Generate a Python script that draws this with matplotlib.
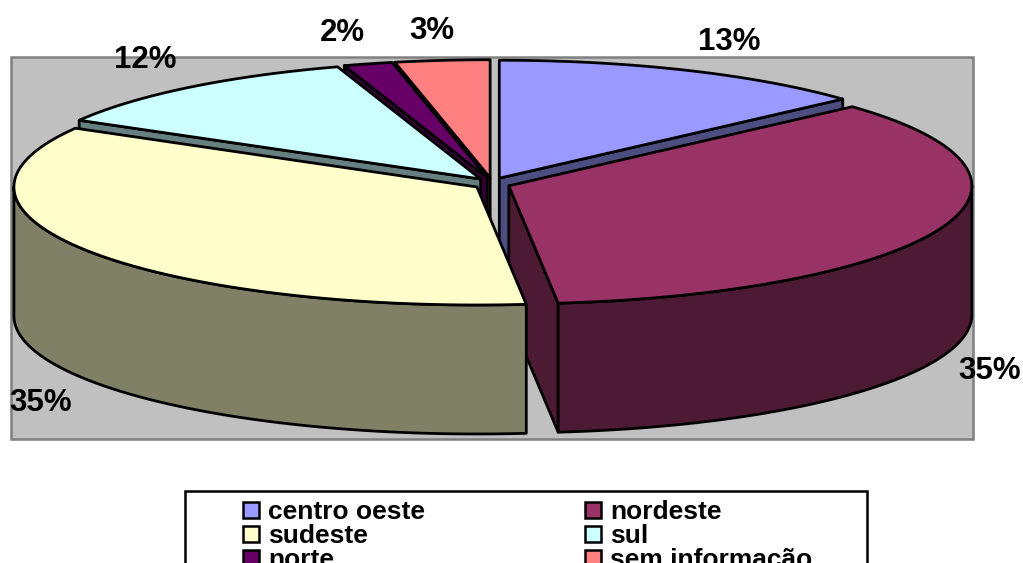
import numpy as np
import matplotlib
matplotlib.use("Agg")
import matplotlib.pyplot as plt
from matplotlib.patches import Polygon, Rectangle

categories = ["centro oeste", "nordeste", "sudeste", "sul", "norte", "sem informação"]
values = [13.3, 35.0, 35.0, 11.7, 1.7, 3.3]
top_colors = ["#9999FF", "#993366", "#FFFFCC", "#CCFFFF", "#660066", "#FF8080"]
side_colors = ["#4D4D80", "#4D1A33", "#808066", "#668080", "#330033", "#804040"]
label_pos = [(729, 42), (990, 371), (41, 403), (145, 60), (342, 33), (432, 31)]

# pie geometry in pixels
cx, cy = 492, 183.7
rx, ry = 463, 118
depth = 129
ex, ey = 18, 6
draw_order = [5, 4, 3, 0, 1, 2]

plt.rcParams["font.family"] = ["Liberation Sans", "DejaVu Sans"]
plt.rcParams["font.weight"] = "bold"

fig = plt.figure(figsize=(10.23, 5.63), dpi=100)
ax = fig.add_axes([0, 0, 1, 1])
ax.set_xlim(0, 1023)
ax.set_ylim(563, 0)
ax.axis("off")

ax.add_patch(Rectangle((11, 57), 962, 382, fc="#C0C0C0", ec="#808080", lw=1.8, zorder=0))


def point(ox, oy, t):
    return ox + rx * np.sin(t), oy - ry * np.cos(t)


edges = np.radians(np.concatenate([[0], np.cumsum(values)]) * 3.6)
z = 1
for i in draw_order:
    a, b = edges[i], edges[i + 1]
    mid = (a + b) / 2
    ox = cx + ex * np.sin(mid)
    oy = cy - ey * np.cos(mid)
    kw = dict(ec="black", lw=2, joinstyle="round")

    # cut faces, only those turned to the viewer
    for t, visible in ((a, np.sin(a) < -1e-9), (b, np.sin(b) > 1e-9)):
        if not visible:
            continue
        px, py = point(ox, oy, t)
        wall = [(ox, oy), (px, py), (px, py + depth), (ox, oy + depth)]
        ax.add_patch(Polygon(wall, fc=side_colors[i], zorder=z, **kw))
        z += 1

    # outer face, only the part that looks to the front
    lo, hi = max(a, np.pi / 2), min(b, 3 * np.pi / 2)
    if hi > lo:
        ts = np.linspace(lo, hi, 200)
        xs, ys = point(ox, oy, ts)
        outer = np.vstack([np.c_[xs, ys], np.c_[xs[::-1], ys[::-1] + depth]])
        ax.add_patch(Polygon(outer, fc=side_colors[i], zorder=z, **kw))
        z += 1

    # top
    ts = np.linspace(a, b, 200)
    xs, ys = point(ox, oy, ts)
    top = np.vstack([[ox, oy], np.c_[xs, ys]])
    ax.add_patch(Polygon(top, fc=top_colors[i], zorder=z, **kw))
    z += 1

for v, (x, y) in zip(values, label_pos):
    ax.text(x, y, f"{round(v)}%", fontsize=22.5, fontweight="bold", ha="center", va="center", zorder=100)

# legend, runs off the bottom like the original
ax.add_patch(Rectangle((185, 491), 682, 100, fc="white", ec="black", lw=1.8, zorder=100))
for i, name in enumerate(categories):
    col = i % 2
    row = i // 2
    x0 = 243 + col * 342
    y0 = 510 + row * 24
    ax.add_patch(Rectangle((x0, y0 - 8), 16, 16, fc=top_colors[i], ec="black", lw=1.8, zorder=101))
    ax.text(x0 + 25, y0 + 2, name, fontsize=19, fontweight="bold", ha="left", va="center", zorder=101)

fig.savefig("out.png", dpi=100)
